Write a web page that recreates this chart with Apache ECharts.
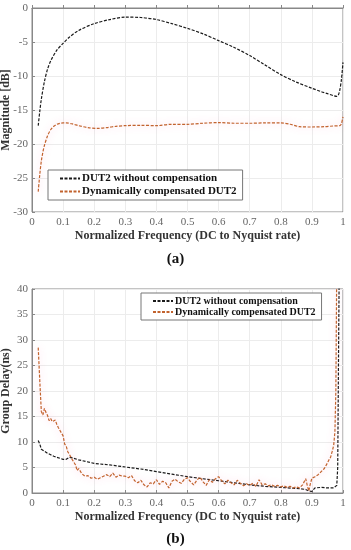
<!DOCTYPE html>
<html><head><meta charset="utf-8">
<script src="https://cdn.jsdelivr.net/npm/echarts@6/dist/echarts.min.js"></script>
<style>html,body{margin:0;padding:0;background:#fff}#c{width:351px;height:550px}</style>
</head><body><div id="c"></div>
<script>
var seriesNames = ['DUT2 without compensation', 'Dynamically compensated DUT2'];
var xTicks = ['0','0.1','0.2','0.3','0.4','0.5','0.6','0.7','0.8','0.9','1'];

// (a) Magnitude [dB]
var magFreqA = [0.02,0.025,0.03,0.04,0.05,0.06,0.08,0.10,0.12,0.15,0.20,0.25,0.30,0.35,0.40,0.45,0.50,0.55,0.60,0.65,0.70,0.75,0.80,0.85,0.90,0.93,0.95,0.97,0.98,0.985,0.99,0.995,1.0];
var magUncomp = [-17.3,-15.2,-13.4,-10.8,-9.0,-7.8,-6.2,-5.2,-4.3,-3.3,-2.3,-1.7,-1.35,-1.4,-1.7,-2.3,-3.0,-3.8,-4.8,-5.8,-7.0,-8.4,-9.8,-10.9,-11.8,-12.3,-12.6,-12.9,-13.0,-12.8,-12.0,-10.5,-8.0];
var magFreqB = [0.02,0.025,0.03,0.035,0.04,0.05,0.06,0.07,0.08,0.09,0.10,0.11,0.13,0.15,0.18,0.21,0.24,0.27,0.30,0.35,0.40,0.45,0.50,0.55,0.60,0.65,0.70,0.75,0.80,0.83,0.86,0.90,0.94,0.97,0.99,0.995,1.0];
var magComp = [-27,-24.5,-22.5,-21.2,-20.2,-18.8,-17.9,-17.4,-17.1,-16.95,-16.9,-16.9,-17.05,-17.3,-17.6,-17.7,-17.6,-17.4,-17.3,-17.25,-17.3,-17.1,-17.1,-16.95,-16.85,-16.95,-16.95,-16.9,-16.9,-17.1,-17.45,-17.5,-17.45,-17.35,-17.3,-17.0,-16.0];

// (b) Group Delay (ns)
var gdFreqA = [0.02,0.025,0.03,0.04,0.05,0.06,0.07,0.08,0.09,0.10,0.11,0.12,0.13,0.15,0.20,0.25,0.30,0.35,0.40,0.45,0.50,0.55,0.60,0.65,0.70,0.75,0.80,0.85,0.88,0.89,0.895,0.90,0.91,0.93,0.95,0.97,0.975,0.98,0.983,0.986,0.988];
var gdUncomp = [10.3,9.6,8.6,8.2,7.8,7.5,7.2,7.0,6.8,6.6,6.6,7.0,6.9,6.5,5.8,5.5,5.1,4.7,4.2,3.7,3.2,2.8,2.4,2.0,1.6,1.3,1.1,0.9,0.7,0.4,0.1,0.3,1.0,1.1,1.0,1.0,1.0,1.5,5,30,45];
var gdFreqB = [0.02,0.025,0.03,0.035,0.04,0.045,0.05,0.055,0.06,0.065,0.07,0.075,0.08,0.085,0.09,0.10,0.105,0.11,0.115,0.12,0.13,0.14,0.145,0.15,0.16,0.17,0.18,0.19,0.20,0.21,0.22,0.23,0.24,0.25,0.26,0.27,0.28,0.29,0.30,0.31,0.32,0.33,0.34,0.35,0.36,0.37,0.38,0.39,0.40,0.41,0.42,0.43,0.44,0.45,0.46,0.47,0.48,0.49,0.50,0.51,0.52,0.53,0.54,0.55,0.56,0.57,0.58,0.59,0.60,0.61,0.62,0.63,0.64,0.65,0.66,0.67,0.68,0.69,0.70,0.71,0.72,0.73,0.74,0.75,0.76,0.77,0.78,0.79,0.80,0.81,0.82,0.83,0.84,0.85,0.86,0.87,0.88,0.885,0.89,0.895,0.90,0.91,0.92,0.93,0.94,0.95,0.955,0.96,0.965,0.97,0.974,0.977,0.98];
var gdComp = [28.5,22,16,15.3,16.6,15.8,15.2,14.2,14.6,14.0,13.9,14.3,13.4,12.8,12.6,11.2,9.6,9.2,8.1,7.6,6.5,5.5,4.4,4.8,3.8,3.3,3.4,2.9,3.1,2.7,3.0,3.3,3.6,3.2,3.9,3.1,3.5,3.3,3.3,3.0,3.4,2.4,2.0,2.5,1.6,1.2,2.0,1.8,2.6,1.7,2.3,2.0,1.0,2.3,2.7,2.2,1.9,2.7,3.0,2.2,1.6,2.5,3.1,2.2,1.5,2.6,2.1,2.8,3.2,2.4,1.8,2.5,2.0,1.6,2.5,1.9,1.4,1.8,1.5,1.9,1.3,2.6,1.6,1.8,1.4,1.6,1.3,1.5,1.2,1.4,1.1,1.3,1.0,1.2,1.0,1.6,2.8,1.5,0.4,1.8,2.9,3.2,3.6,4.2,4.8,5.9,6.5,7.0,8.1,9.3,12,20,45];

function pairs(xs, ys){ return xs.map(function(x,i){ return [x, ys[i]]; }); }

var serif = 'Liberation Serif';
var blackStyle = {color:'#1a1a1a', width:1.2, type:[3,1.5]};
var redStyle = {color:'#c2632e', width:1.2, type:[3,1.5], shadowColor:'rgba(255,110,170,0.45)', shadowBlur:7};

function xAxisCfg(gi){
  return {type:'value', gridIndex:gi, min:0, max:1, interval:0.1,
    name:'Normalized Frequency (DC to Nyquist rate)', nameLocation:'middle', nameGap:18,
    nameTextStyle:{fontFamily:serif, fontWeight:'bold', fontSize:12, color:'#333'},
    axisLine:{show:true, lineStyle:{color:'#888', width:1}},
    axisTick:{show:true, inside:true, length:3, lineStyle:{color:'#888'}},
    axisLabel:{fontFamily:serif, fontSize:11, color:'#666', margin:5,
      formatter:function(v){ var s = xTicks[Math.round(v*10)]; return s===undefined?'':s; }},
    splitLine:{show:true, lineStyle:{color:'#ececec', width:1}}};
}
function yAxisCfg(gi, name, min, max){
  return {type:'value', gridIndex:gi, min:min, max:max, interval:5,
    name:name, nameLocation:'middle', nameGap:20, nameMoveOverlap:false,
    nameTextStyle:{fontFamily:serif, fontWeight:'bold', fontSize:12, color:'#333'},
    axisLine:{show:true, lineStyle:{color:'#888', width:1}},
    axisTick:{show:true, inside:true, length:3, lineStyle:{color:'#888'}},
    axisLabel:{fontFamily:serif, fontSize:11, color:'#666', margin:4},
    splitLine:{show:true, lineStyle:{color:'#ececec', width:1}}};
}
function legendCfg(left, top, fs, gap){
  return {left:left, top:top, orient:'vertical', itemWidth:20, itemHeight:6, itemGap:gap,
    backgroundColor:'#fff', borderColor:'#777', borderWidth:1, padding:[3,6,3,11],
    itemStyle:{opacity:0},
    textStyle:{fontFamily:serif, fontWeight:'bold', fontSize:fs, color:'#111', padding:[0,0,0,-3]},
    data:seriesNames};
}

var chart = echarts.init(document.getElementById('c'), null, {renderer:'canvas'});
chart.setOption({
  animation:false,
  backgroundColor:'#fff',
  grid:[
    {left:32, top:8, width:311, height:204, containLabel:false, outerBoundsMode:'none', show:true, borderColor:'#888', borderWidth:1, backgroundColor:'transparent'},
    {left:32, top:289, width:311, height:204, containLabel:false, outerBoundsMode:'none', show:true, borderColor:'#888', borderWidth:1, backgroundColor:'transparent'}
  ],
  xAxis:[xAxisCfg(0), xAxisCfg(1)],
  yAxis:[yAxisCfg(0,'Magnitude [dB]',-30,0), yAxisCfg(1,'Group Delay(ns)',0,40)],
  legend:[ legendCfg(48,170,11,2), legendCfg(141,293,10,1) ],
  title:[
    {text:'(a)', left:'center', top:247, textStyle:{fontFamily:serif, fontWeight:'bold', fontSize:15, color:'#111'}},
    {text:'(b)', left:'center', top:527, textStyle:{fontFamily:serif, fontWeight:'bold', fontSize:15, color:'#111'}}
  ],
  series:[
    {name:seriesNames[0], type:'line', xAxisIndex:0, yAxisIndex:0, showSymbol:false, symbol:'none', smooth:0.3, clip:true,
      lineStyle:blackStyle, itemStyle:{color:'#1a1a1a'}, data:pairs(magFreqA, magUncomp)},
    {name:seriesNames[1], type:'line', xAxisIndex:0, yAxisIndex:0, showSymbol:false, symbol:'none', smooth:0.3, clip:true,
      lineStyle:redStyle, itemStyle:{color:'#c2632e'}, data:pairs(magFreqB, magComp)},
    {name:seriesNames[0], type:'line', xAxisIndex:1, yAxisIndex:1, showSymbol:false, symbol:'none', clip:true,
      lineStyle:blackStyle, itemStyle:{color:'#1a1a1a'}, data:pairs(gdFreqA, gdUncomp)},
    {name:seriesNames[1], type:'line', xAxisIndex:1, yAxisIndex:1, showSymbol:false, symbol:'none', clip:true,
      lineStyle:redStyle, itemStyle:{color:'#c2632e'}, data:pairs(gdFreqB, gdComp)}
  ]
});
</script></body></html>
